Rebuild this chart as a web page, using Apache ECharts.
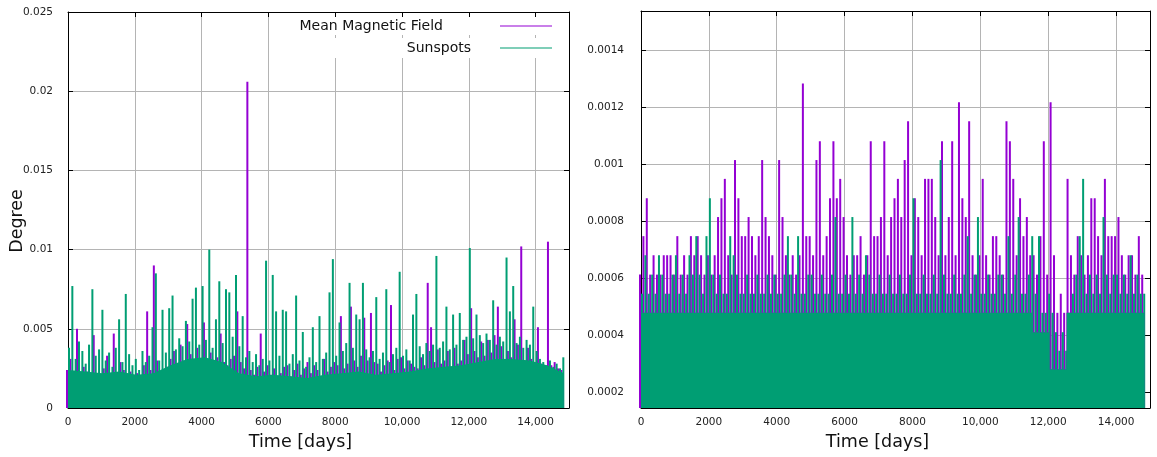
<!DOCTYPE html>
<html>
<head>
<meta charset="utf-8">
<script src="https://cdn.jsdelivr.net/npm/echarts@6/dist/echarts.min.js"></script>
<style>
  html, body { margin: 0; padding: 0; background: #fff; }
  #chart { width: 1157px; height: 457px; }
</style>
</head>
<body>
<div id="chart"></div>
<script>
// peaks: one value per 100-day bin (highest point inside the bin)
const binDays = 100;
// floors: level under which the dense trace is solid, one value per 512 days
const floorDays = 512;

// left panel, full range 0 .. 0.025
const magLeft = [
  0.0024, 0.0031, 0.0022, 0.0050, 0.0020, 0.0026, 0.0023, 0.0021, 0.0046, 0.0022,
  0.0020, 0.0025, 0.0033, 0.0022, 0.0047, 0.0021, 0.0029, 0.0024, 0.0020, 0.0023,
  0.0019, 0.0022, 0.0018, 0.0027, 0.0061, 0.0024, 0.0090, 0.0030, 0.0022, 0.0021,
  0.0026, 0.0031, 0.0036, 0.0028, 0.0040, 0.0030, 0.0053, 0.0034, 0.0029, 0.0038,
  0.0031, 0.0054, 0.0030, 0.0035, 0.0028, 0.0032, 0.0047, 0.0029, 0.0027, 0.0031,
  0.0033, 0.0061, 0.0029, 0.0025, 0.0206, 0.0024, 0.0021, 0.0026, 0.0047, 0.0023,
  0.0027, 0.0021, 0.0025, 0.0019, 0.0022, 0.0026, 0.0027, 0.0020, 0.0024, 0.0028,
  0.0021, 0.0025, 0.0029, 0.0022, 0.0027, 0.0024, 0.0019, 0.0031, 0.0023, 0.0026,
  0.0029, 0.0027, 0.0058, 0.0025, 0.0028, 0.0064, 0.0030, 0.0026, 0.0033, 0.0057,
  0.0030, 0.0060, 0.0029, 0.0028, 0.0023, 0.0027, 0.0030, 0.0065, 0.0024, 0.0031,
  0.0032, 0.0025, 0.0030, 0.0028, 0.0026, 0.0025, 0.0032, 0.0027, 0.0079, 0.0051,
  0.0029, 0.0037, 0.0028, 0.0030, 0.0036, 0.0026, 0.0038, 0.0028, 0.0030, 0.0043,
  0.0034, 0.0063, 0.0036, 0.0032, 0.0042, 0.0033, 0.0043, 0.0035, 0.0046, 0.0064,
  0.0039, 0.0031, 0.0036, 0.0032, 0.0056, 0.0040, 0.0102, 0.0030, 0.0038, 0.0031,
  0.0026, 0.0051, 0.0028, 0.0026, 0.0105, 0.0027, 0.0029, 0.0025, 0.0024
];
const sunLeft = [
  0.0038, 0.0077, 0.0031, 0.0042, 0.0036, 0.0028, 0.0040, 0.0075, 0.0033, 0.0037,
  0.0062, 0.0030, 0.0035, 0.0026, 0.0038, 0.0056, 0.0029, 0.0072, 0.0034, 0.0027,
  0.0031, 0.0024, 0.0036, 0.0029, 0.0033, 0.0051, 0.0085, 0.0030, 0.0062, 0.0035,
  0.0063, 0.0071, 0.0037, 0.0044, 0.0039, 0.0055, 0.0042, 0.0069, 0.0076, 0.0040,
  0.0077, 0.0043, 0.0100, 0.0038, 0.0056, 0.0080, 0.0041, 0.0075, 0.0073, 0.0045,
  0.0084, 0.0039, 0.0058, 0.0032, 0.0036, 0.0029, 0.0034, 0.0027, 0.0031, 0.0093,
  0.0030, 0.0084, 0.0061, 0.0033, 0.0062, 0.0061, 0.0028, 0.0034, 0.0071, 0.0030,
  0.0048, 0.0026, 0.0032, 0.0051, 0.0029, 0.0058, 0.0031, 0.0035, 0.0073, 0.0094,
  0.0033, 0.0054, 0.0036, 0.0041, 0.0079, 0.0038, 0.0059, 0.0056, 0.0079, 0.0037,
  0.0032, 0.0036, 0.0070, 0.0031, 0.0035, 0.0075, 0.0029, 0.0034, 0.0038, 0.0086,
  0.0033, 0.0037, 0.0030, 0.0059, 0.0072, 0.0039, 0.0034, 0.0041, 0.0036, 0.0040,
  0.0096, 0.0038, 0.0042, 0.0064, 0.0037, 0.0059, 0.0040, 0.0060, 0.0043, 0.0045,
  0.0101, 0.0044, 0.0059, 0.0046, 0.0041, 0.0047, 0.0043, 0.0068, 0.0040, 0.0045,
  0.0042, 0.0095, 0.0061, 0.0077, 0.0041, 0.0045, 0.0038, 0.0043, 0.0040, 0.0064,
  0.0036, 0.0031, 0.0029, 0.0027, 0.0030, 0.0026, 0.0028, 0.0025, 0.0032
];
const magLeftFloor = [
  0.0020, 0.0020, 0.0019, 0.0020, 0.0018, 0.0019, 0.0023, 0.0026, 0.0027, 0.0024,
  0.0019, 0.0017, 0.0018, 0.0017, 0.0016, 0.0018, 0.0019, 0.0020, 0.0018, 0.0019,
  0.0020, 0.0021, 0.0022, 0.0023, 0.0024, 0.0026, 0.0026, 0.0025, 0.0022, 0.0018
];
const sunLeftFloor = [
  0.0024, 0.0023, 0.0022, 0.0023, 0.0021, 0.0022, 0.0027, 0.0031, 0.0032, 0.0029,
  0.0022, 0.0020, 0.0021, 0.0020, 0.0019, 0.0021, 0.0022, 0.0023, 0.0021, 0.0022,
  0.0023, 0.0025, 0.0026, 0.0027, 0.0029, 0.0031, 0.0031, 0.0030, 0.0027, 0.0022
];

// right panel, zoomed y range
const magRight = [
  0.000612, 0.000747, 0.00088, 0.000612, 0.00068, 0.000612, 0.000612, 0.00068, 0.00068, 0.00068,
  0.000612, 0.000747, 0.000612, 0.00068, 0.000612, 0.000747, 0.00068, 0.000747, 0.00068, 0.000612,
  0.00068, 0.000612, 0.00068, 0.000814, 0.00088, 0.000948, 0.00068, 0.000612, 0.001014, 0.00088,
  0.000747, 0.000747, 0.000814, 0.000747, 0.00068, 0.000747, 0.001014, 0.000814, 0.000747, 0.00068,
  0.000612, 0.001014, 0.000814, 0.00068, 0.000612, 0.00068, 0.000612, 0.00068, 0.001283, 0.000747,
  0.000747, 0.00068, 0.001014, 0.00108, 0.00068, 0.000747, 0.00088, 0.00108, 0.00088, 0.000948,
  0.000814, 0.00068, 0.000612, 0.00068, 0.00068, 0.000747, 0.000612, 0.00068, 0.00108, 0.000747,
  0.000747, 0.000814, 0.00108, 0.00068, 0.000814, 0.00088, 0.000948, 0.000814, 0.001014, 0.00115,
  0.00068, 0.00088, 0.000814, 0.00068, 0.000948, 0.000948, 0.000948, 0.000814, 0.00068, 0.00108,
  0.00068, 0.000814, 0.00108, 0.00068, 0.001217, 0.00088, 0.000814, 0.00115, 0.00068, 0.000612,
  0.00068, 0.000948, 0.00068, 0.000612, 0.000747, 0.000747, 0.00068, 0.000612, 0.00115, 0.00108,
  0.000948, 0.00068, 0.00088, 0.000747, 0.000814, 0.00068, 0.00068, 0.000612, 0.000747, 0.00108,
  0.000612, 0.001217, 0.00068, 0.000478, 0.000545, 0.000478, 0.000948, 0.00068, 0.000612, 0.000747,
  0.00068, 0.000612, 0.00068, 0.00088, 0.00088, 0.000747, 0.00068, 0.000948, 0.000747, 0.000747,
  0.000747, 0.000814, 0.00068, 0.000612, 0.00068, 0.00068, 0.000612, 0.000747, 0.000612
];
const sunRight = [
  0.000545, 0.00068, 0.000545, 0.000612, 0.000545, 0.00068, 0.000612, 0.000545, 0.000545, 0.000612,
  0.00068, 0.000545, 0.000612, 0.000545, 0.00068, 0.000612, 0.000747, 0.000612, 0.000545, 0.000747,
  0.00088, 0.000612, 0.000545, 0.000612, 0.000545, 0.000545, 0.000747, 0.00068, 0.000612, 0.000545,
  0.000545, 0.000612, 0.000545, 0.000545, 0.000612, 0.000545, 0.000545, 0.000612, 0.000545, 0.000612,
  0.000545, 0.000545, 0.000612, 0.000747, 0.000612, 0.000545, 0.000747, 0.000545, 0.000545, 0.000612,
  0.000612, 0.000545, 0.000545, 0.000612, 0.000545, 0.000545, 0.000612, 0.000814, 0.000545, 0.000545,
  0.000612, 0.000545, 0.000814, 0.000545, 0.000612, 0.000545, 0.00068, 0.000612, 0.000545, 0.000545,
  0.000612, 0.000545, 0.000545, 0.000612, 0.000545, 0.000545, 0.000612, 0.000545, 0.000545, 0.000612,
  0.00088, 0.000545, 0.000545, 0.000612, 0.000545, 0.000545, 0.000612, 0.000545, 0.001014, 0.000612,
  0.000545, 0.000545, 0.000612, 0.000545, 0.000545, 0.000612, 0.000747, 0.000545, 0.000612, 0.000814,
  0.000545, 0.000545, 0.000612, 0.000545, 0.000545, 0.000612, 0.000612, 0.000545, 0.000747, 0.000545,
  0.000612, 0.000814, 0.000545, 0.000545, 0.000612, 0.000747, 0.000545, 0.000747, 0.000478, 0.000478,
  0.000545, 0.000478, 0.00041, 0.000345, 0.00041, 0.000345, 0.00041, 0.000545, 0.000612, 0.000747,
  0.000948, 0.000545, 0.000612, 0.000545, 0.000612, 0.000545, 0.000814, 0.000612, 0.000545, 0.000612,
  0.000612, 0.000545, 0.000612, 0.000545, 0.00068, 0.000545, 0.000612, 0.000545, 0.000545
];
const magRightFloor = [
  0.000478, 0.000478, 0.000478, 0.000478, 0.000478, 0.000478, 0.000478, 0.000478, 0.000478, 0.000478,
  0.000478, 0.000478, 0.000478, 0.000478, 0.000478, 0.000478, 0.000478, 0.000478, 0.000478, 0.000478,
  0.000478, 0.000478, 0.000478, 0.00041, 0.00028, 0.000478, 0.000478, 0.000478, 0.000478, 0.000478
];
const sunRightFloor = [
  0.000478, 0.000478, 0.000478, 0.000478, 0.000478, 0.000478, 0.000478, 0.000478, 0.000478, 0.000478,
  0.000478, 0.000478, 0.000478, 0.000478, 0.000478, 0.000478, 0.000478, 0.000478, 0.000478, 0.000478,
  0.000478, 0.000478, 0.000478, 0.00041, 0.00028, 0.000478, 0.000478, 0.000478, 0.000478, 0.000478
];

const magColor = '#9400d3';
const sunColor = '#009e73';
const font = 'DejaVu Sans';

function pairs(vals, step) {
  return vals.map((v, i) => [i * step, v]);
}

// x labels as 10,000 etc
function dayLabel(v) {
  return v >= 10000 ? String(v).replace(/(\d+)(\d{3})$/, '$1,$2') : String(v);
}

function xAxisFor(grid, mirror) {
  return {
    type: 'value',
    gridIndex: grid,
    position: mirror ? 'top' : 'bottom',
    min: 0,
    max: 15000,
    interval: 2000,
    name: mirror ? '' : 'Time [days]',
    nameLocation: 'middle',
    nameGap: 25,
    nameTextStyle: { fontFamily: font, fontSize: 17.5, color: '#111', padding: [0, 36, 0, 0] },
    axisLine: { show: true, onZero: false, lineStyle: { color: '#000', width: 1 } },
    axisTick: { show: true, inside: true, length: 5, lineStyle: { color: '#000' } },
    axisLabel: {
      show: !mirror,
      showMaxLabel: false,
      margin: 9,
      fontFamily: font,
      fontSize: 10.5,
      color: '#222',
      formatter: dayLabel
    },
    splitLine: { show: !mirror, lineStyle: { color: '#b4b4b4', width: 1 } }
  };
}

function yAxisFor(grid, mirror, range) {
  let axis = {
    type: 'value',
    gridIndex: grid,
    position: mirror ? 'right' : 'left',
    min: range.min,
    max: range.max,
    axisLine: { show: true, onZero: false, lineStyle: { color: '#000', width: 1 } },
    axisTick: { show: true, inside: true, length: 5, lineStyle: { color: '#000' } },
    axisLabel: {
      show: !mirror,
      showMinLabel: range.showMin,
      showMaxLabel: range.showMax,
      margin: range.margin,
      fontFamily: font,
      fontSize: 10.5,
      color: '#222'
    },
    splitLine: { show: !mirror, lineStyle: { color: '#b4b4b4', width: 1 } }
  };
  if (range.interval) axis.interval = range.interval;
  if (range.splitNumber) axis.splitNumber = range.splitNumber;
  return axis;
}

const leftRange = { min: 0, max: 0.025, interval: 0.005, showMin: true, showMax: true, margin: 15 };
const rightRange = { min: 0.000144, max: 0.001537, splitNumber: 7, showMin: false, showMax: false, margin: 17 };

let leftY = yAxisFor(0, false, leftRange);
leftY.name = 'Degree';
leftY.nameLocation = 'middle';
leftY.nameGap = 42;
leftY.nameMoveOverlap = false;
leftY.nameTextStyle = { fontFamily: font, fontSize: 17.5, color: '#111', padding: [0, 22, 0, 0] };

// thin spikes, the two series sit side by side inside each bin
function peakSeries(name, color, vals, axis) {
  return {
    name: name,
    type: 'bar',
    xAxisIndex: axis,
    yAxisIndex: axis,
    data: pairs(vals, binDays),
    barWidth: 2,
    barGap: '0%',
    itemStyle: { color: color },
    emphasis: { disabled: true },
    silent: true
  };
}

// solid part of the trace under the spikes
function floorSeries(name, color, vals, axis, stepped) {
  return {
    name: name,
    type: 'line',
    xAxisIndex: axis,
    yAxisIndex: axis,
    data: pairs(vals, floorDays),
    step: stepped ? 'middle' : false,
    showSymbol: false,
    lineStyle: { width: 0, color: color },
    itemStyle: { color: color },
    areaStyle: { color: color, opacity: 1 },
    emphasis: { disabled: true },
    silent: true
  };
}

const option = {
  animation: false,
  backgroundColor: '#fff',
  textStyle: { fontFamily: font },
  grid: [
    { left: 68, top: 12, width: 501, height: 396 },
    { left: 641, top: 11, width: 509, height: 397 }
  ],
  legend: [
    {
      data: ['Mean Magnetic Field'],
      right: 589,
      top: 17,
      align: 'right',
      padding: [2, 16, 2, 12],
      backgroundColor: '#fff',
      icon: 'rect',
      itemWidth: 52,
      itemHeight: 1.2,
      selectedMode: false,
      textStyle: { fontFamily: font, fontSize: 14, color: '#111', padding: [0, 52, 0, 0] }
    },
    {
      data: ['Sunspots'],
      right: 589,
      top: 38,
      align: 'right',
      padding: [3, 16, 3, 119],
      backgroundColor: '#fff',
      icon: 'rect',
      itemWidth: 52,
      itemHeight: 1.2,
      selectedMode: false,
      textStyle: { fontFamily: font, fontSize: 14, color: '#111', padding: [0, 24, 0, 0] }
    }
  ],
  xAxis: [xAxisFor(0, false), xAxisFor(1, false), xAxisFor(0, true), xAxisFor(1, true)],
  yAxis: [leftY, yAxisFor(1, false, rightRange), yAxisFor(0, true, leftRange), yAxisFor(1, true, rightRange)],
  series: [
    floorSeries('Mean Magnetic Field', magColor, magLeftFloor, 0, false),
    peakSeries('Mean Magnetic Field', magColor, magLeft, 0),
    floorSeries('Sunspots', sunColor, sunLeftFloor, 0, false),
    peakSeries('Sunspots', sunColor, sunLeft, 0),
    floorSeries('Mean Magnetic Field', magColor, magRightFloor, 1, true),
    peakSeries('Mean Magnetic Field', magColor, magRight, 1),
    floorSeries('Sunspots', sunColor, sunRightFloor, 1, true),
    peakSeries('Sunspots', sunColor, sunRight, 1)
  ]
};

const chart = echarts.init(document.getElementById('chart'));
chart.setOption(option);
</script>
</body>
</html>
